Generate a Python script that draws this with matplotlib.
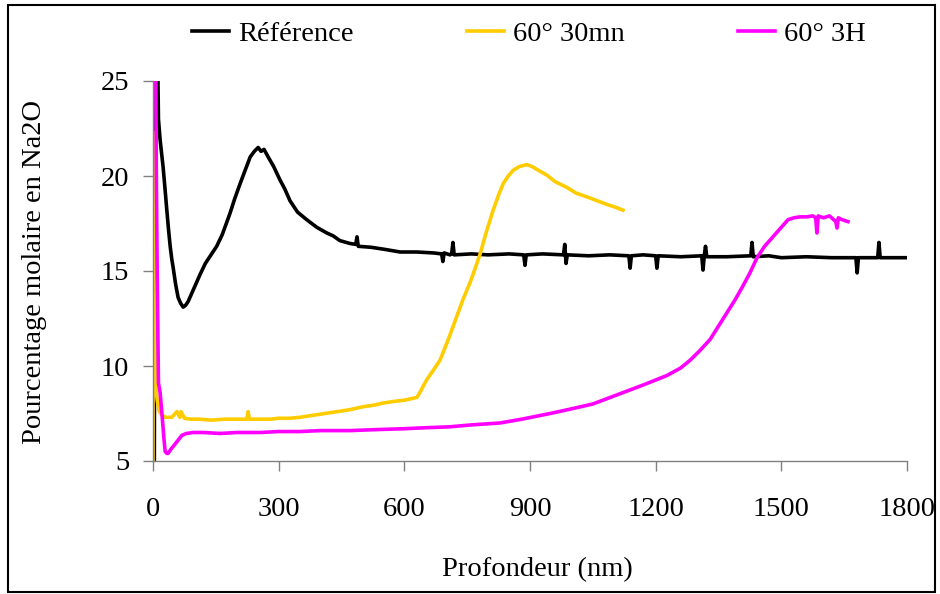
import numpy as np
from matplotlib import pyplot as plt
from matplotlib.patches import Rectangle

# --- Profondeur [nm] / pourcentage molaire Na2O ---
ref_x = [3, 6, 9, 13, 17, 20, 24, 28, 33, 37, 41, 45, 48, 54, 60, 66, 72, 78,
         84, 92, 100, 112, 125, 140, 152, 165, 175, 184, 195, 208, 220, 232,
         242, 251, 258, 265, 275, 288, 303, 315, 327, 345, 367, 391, 415, 430,
         446, 470, 484, 487, 490, 520, 550, 590, 630, 670, 689, 692, 695, 709,
         713, 716, 719, 760, 800, 850, 885, 888, 891, 930, 980, 983, 986, 989,
         1040, 1090, 1136, 1139, 1142, 1170, 1200, 1203, 1206, 1260, 1310,
         1313, 1316, 1319, 1322, 1370, 1427, 1430, 1433, 1470, 1500, 1560,
         1620, 1678, 1681, 1684, 1730, 1733, 1736, 1770, 1800]
ref_y = [3, 40, 30, 23, 21.9, 21.3, 20.5, 19.5, 18.2, 17.2, 16.3, 15.6, 15.2,
         14.3, 13.6, 13.3, 13.1, 13.2, 13.4, 13.8, 14.2, 14.8, 15.4, 15.9,
         16.3, 16.9, 17.5, 18.05, 18.8, 19.6, 20.3, 21.0, 21.3, 21.5, 21.3,
         21.4, 21.0, 20.5, 19.8, 19.3, 18.7, 18.1, 17.7, 17.3, 17.0, 16.85,
         16.6, 16.45, 16.4, 16.8, 16.3, 16.25, 16.15, 16.0, 16.0, 15.95, 15.9,
         15.5, 15.95, 15.85, 15.9, 16.5, 15.85, 15.9, 15.85, 15.9, 15.85, 15.3,
         15.85, 15.9, 15.85, 16.4, 15.4, 15.85, 15.8, 15.85, 15.8, 15.15, 15.8,
         15.85, 15.8, 15.15, 15.8, 15.75, 15.8, 15.05, 15.8, 16.3, 15.75,
         15.75, 15.8, 16.5, 15.75, 15.8, 15.7, 15.75, 15.7, 15.7, 14.9, 15.7,
         15.7, 16.5, 15.7, 15.7, 15.7]

mn30_x = [0, 1, 3, 6, 10, 15, 22, 30, 45, 57, 64, 67, 75, 90, 112, 140, 170,
          200, 224, 227, 230, 250, 280, 300, 327, 351, 380, 410, 440, 470, 500,
          530, 549, 580, 600, 621, 630, 637, 654, 670, 685, 705, 725, 740, 757,
          770, 781, 795, 812, 825, 836, 848, 860, 875, 892, 905, 920, 940, 960,
          988, 1010, 1036, 1060, 1084, 1105, 1122]
mn30_y = [3, 22.3, 13, 9.0, 8.2, 7.6, 7.4, 7.3, 7.3, 7.6, 7.3, 7.6, 7.25, 7.2,
          7.2, 7.15, 7.2, 7.2, 7.2, 7.6, 7.2, 7.2, 7.2, 7.25, 7.25, 7.3, 7.4,
          7.5, 7.6, 7.7, 7.85, 7.95, 8.05, 8.15, 8.2, 8.3, 8.35, 8.6, 9.3, 9.8,
          10.3, 11.4, 12.6, 13.5, 14.4, 15.2, 15.9, 17.0, 18.2, 19.0, 19.6,
          20.0, 20.3, 20.5, 20.6, 20.5, 20.3, 20.05, 19.7, 19.4, 19.1, 18.9,
          18.7, 18.5, 18.35, 18.2]

h3_x = [3, 8, 10, 13, 17, 22, 26, 29, 33, 36, 42, 53, 60, 69, 80, 96, 120,
        160, 200, 256, 300, 350, 400, 470, 530, 600, 650, 709, 760, 828, 880,
        948, 1000, 1050, 1122, 1170, 1227, 1260, 1282, 1305, 1330, 1350, 1370,
        1390, 1408, 1425, 1442, 1460, 1480, 1500, 1516, 1530, 1545, 1561, 1575,
        1582, 1585, 1588, 1600, 1615, 1630, 1633, 1636, 1645, 1659]
h3_y = [40, 20, 14.9, 9.1, 8.6, 7.3, 6.2, 5.5, 5.4, 5.4, 5.6, 5.9, 6.1, 6.35,
        6.45, 6.5, 6.5, 6.45, 6.5, 6.5, 6.55, 6.55, 6.6, 6.6, 6.65, 6.7, 6.75,
        6.8, 6.9, 7.0, 7.2, 7.5, 7.75, 8.0, 8.6, 9.0, 9.5, 9.9, 10.3, 10.8,
        11.4, 12.1, 12.8, 13.5, 14.2, 14.9, 15.7, 16.3, 16.8, 17.3, 17.7, 17.8,
        17.85, 17.85, 17.9, 17.8, 17.0, 17.9, 17.8, 17.9, 17.6, 17.26, 17.8,
        17.7, 17.6]

labels = ['Référence', '60° 30mn', '60° 3H']
colors = ['#000000', '#FFCC00', '#FF00FF']
x_ticks = [0, 300, 600, 900, 1200, 1500, 1800]
y_ticks = [5, 10, 15, 20, 25]


def plot():
    ''' 濃度プロファイルの描画 '''

    plt.rcParams['font.family'] = ['Liberation Serif', 'DejaVu Serif']
    plt.rcParams['font.size'] = 20.5

    fig = plt.figure(figsize=(9.4, 5.94), dpi=100)
    ax = fig.add_axes([153 / 940, 1 - 461 / 594, 754 / 940, 380 / 594])

    series = [(ref_x, ref_y), (mn30_x, mn30_y), (h3_x, h3_y)]
    for (x, y), lab, c in zip(series, labels, colors):
        ax.plot(x, y, color=c, lw=2.6, label=lab)

    ax.set_xlim(0, 1800)
    ax.set_ylim(5, 25)
    ax.set_xticks(x_ticks)
    ax.set_yticks(y_ticks)

    # 軸の体裁 (Excel風)
    for s in ['top', 'right']:
        ax.spines[s].set_visible(False)
    for s in ['left', 'bottom']:
        ax.spines[s].set_color('#808080')
        ax.spines[s].set_linewidth(1.0)
    ax.tick_params(axis='x', direction='out', length=7, width=1,
                   color='#808080', pad=19)
    ax.tick_params(axis='y', direction='out', length=7, width=1,
                   color='#808080', pad=10)

    fig.text(35 / 940, 1 - 272 / 594, 'Pourcentage molaire en Na2O',
             rotation=90, ha='center', va='center')
    fig.text(537 / 940, 1 - 570 / 594, 'Profondeur (nm)',
             ha='center', va='center')

    ax.legend(loc='center', bbox_to_anchor=(529 / 940, 1 - 34 / 594),
              bbox_transform=fig.transFigure, ncol=3, frameon=False,
              handlelength=1.3, handletextpad=0.3, columnspacing=4.0,
              borderpad=0, borderaxespad=0)

    # 外枠
    fig.patches.append(Rectangle((8 / 940, 2 / 594), 927 / 940, 587 / 594,
                                 transform=fig.transFigure, fill=False,
                                 edgecolor='black', lw=1.5))

    fig.savefig('out.png', dpi=100)
    plt.close()


if __name__ == '__main__':
    plot()
